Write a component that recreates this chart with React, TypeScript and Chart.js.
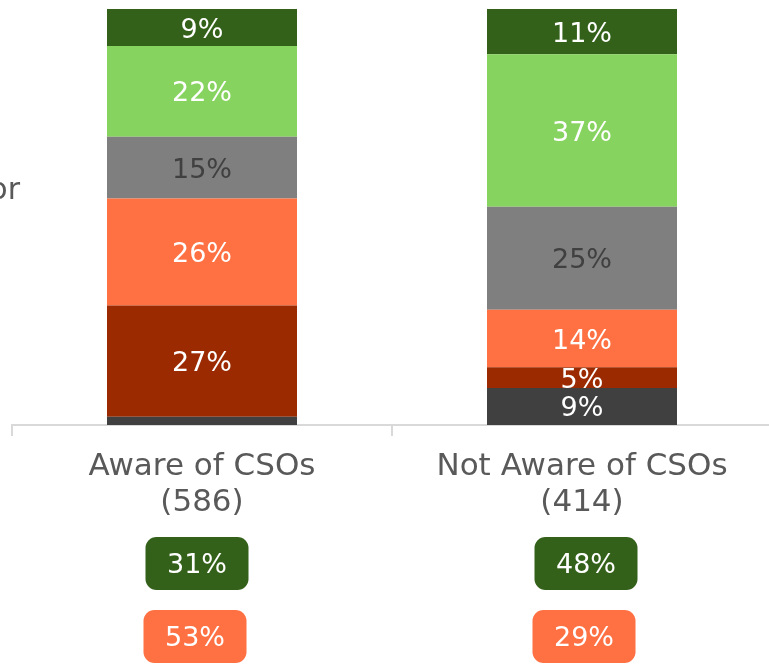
import React, { useEffect, useRef } from "react";
import { Chart, registerables } from "chart.js";

Chart.register(...registerables);

const categories: string[][] = [
  ["Aware of CSOs", "(586)"],
  ["Not Aware of CSOs", "(414)"],
];
const seriesNames = ["Dark gray", "Dark red", "Orange", "Gray", "Light green", "Dark green"];
const darkGray = [2, 9];
const darkRed = [27, 5];
const orange = [26, 14];
const gray = [15, 25];
const lightGreen = [22, 37];
const darkGreen = [9, 11];
const greenBadges = [31, 48];
const orangeBadges = [53, 29];
const sideText = "or";

const COLORS = ["#404040", "#9C2A00", "#FF7043", "#7F7F7F", "#86D35F", "#336119"];
const LABEL_COLORS = ["#FFFFFF", "#FFFFFF", "#FFFFFF", "#404040", "#FFFFFF", "#FFFFFF"];
const FONT = "'DejaVu Sans', sans-serif";

const overlayPlugin = {
  id: "overlay",
  afterDatasetsDraw(chart: any) {
    const ctx = chart.ctx;
    ctx.save();
    ctx.textAlign = "center";
    ctx.textBaseline = "middle";
    ctx.font = `27px ${FONT}`;
    chart.data.datasets.forEach((ds: any, di: number) => {
      const meta = chart.getDatasetMeta(di);
      meta.data.forEach((bar: any, i: number) => {
        const v = ds.data[i];
        if (v < 4) return;
        const yc = (bar.y + bar.base) / 2;
        ctx.fillStyle = LABEL_COLORS[di];
        ctx.fillText(`${v}%`, bar.x, yc + 3);
      });
    });
    // badges
    const xs = chart.scales.x;
    const drawBadge = (cx: number, top: number, color: string, text: string) => {
      const w = 103, h = 53, r = 11;
      const x = cx - w / 2;
      ctx.beginPath();
      ctx.roundRect(x, top, w, h, r);
      ctx.fillStyle = color;
      ctx.fill();
      ctx.fillStyle = "#FFFFFF";
      ctx.font = `27px ${FONT}`;
      ctx.fillText(text, cx, top + h / 2 + 2);
    };
    const shifts = [-5, 4];
    categories.forEach((_, i) => {
      const cx = xs.getPixelForValue(i) + shifts[i];
      drawBadge(cx, 537, COLORS[5], `${greenBadges[i]}%`);
      drawBadge(cx - 2, 610, COLORS[2], `${orangeBadges[i]}%`);
    });
    // cropped side text
    ctx.textAlign = "right";
    ctx.fillStyle = "#595959";
    ctx.font = `30px ${FONT}`;
    ctx.fillText(sideText, 20, 191);
    ctx.restore();
  },
};

export default function App() {
  const ref = useRef<HTMLCanvasElement>(null);
  useEffect(() => {
    if (!ref.current) return;
    const series = [darkGray, darkRed, orange, gray, lightGreen, darkGreen];
    const chart = new Chart(ref.current, {
      type: "bar",
      data: {
        labels: categories,
        datasets: series.map((d, i) => ({
          label: seriesNames[i],
          data: d,
          backgroundColor: COLORS[i],
          borderWidth: 0,
          barPercentage: 0.5,
          categoryPercentage: 1,
        })),
      },
      options: {
        animation: false,
        responsive: false,
        maintainAspectRatio: false,
        layout: { padding: { left: 12, right: 0, top: 9, bottom: 0 } },
        plugins: { legend: { display: false }, tooltip: { enabled: false } },
        scales: {
          x: {
            stacked: true,
            afterFit: (s: any) => {
              s.height = 239;
            },
            grid: {
              display: true,
              offset: true,
              drawOnChartArea: false,
              drawTicks: true,
              tickLength: 11,
              color: "#D9D9D9",
              lineWidth: 2,
            },
            border: { display: true, color: "#D9D9D9", width: 2 },
            ticks: {
              color: "#595959",
              font: { family: FONT, size: 31, lineHeight: 1.15 },
              padding: 13,
              maxRotation: 0,
            },
          },
          y: {
            stacked: true,
            display: false,
            min: 0,
            max: 101,
          },
        },
      },
      plugins: [overlayPlugin],
    });
    return () => chart.destroy();
  }, []);
  return (
    <div style={{ position: "fixed", left: 0, top: 0, width: 769, height: 664, overflow: "hidden", background: "#fff" }}>
      <canvas ref={ref} width={772} height={664} style={{ display: "block" }} />
    </div>
  );
}
